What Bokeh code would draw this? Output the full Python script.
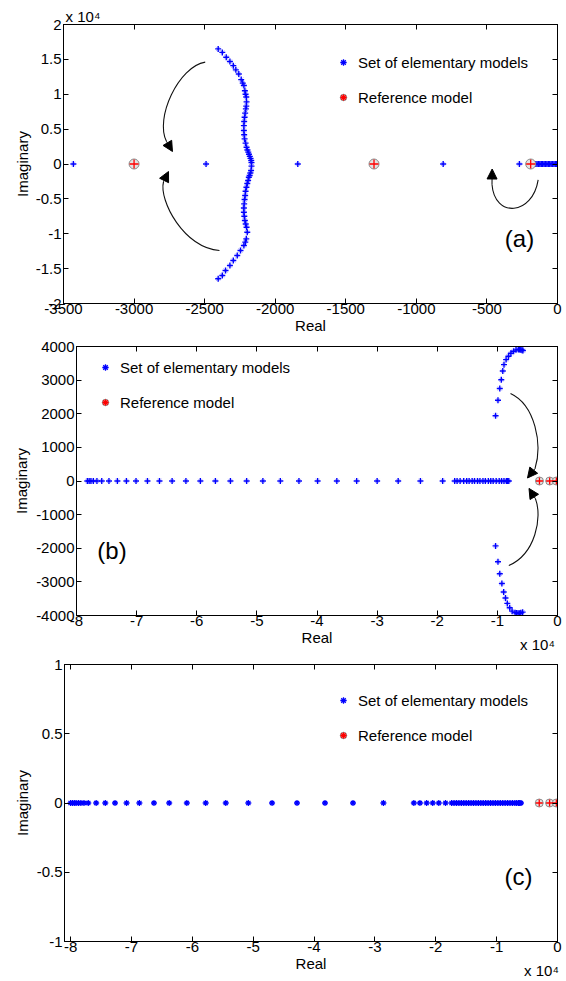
from bokeh.plotting import figure
from bokeh.layouts import column
from bokeh.models import (Range1d, FixedTicker, LinearAxis, Label, Legend, LegendItem,
                          ColumnDataSource, Arrow, NormalHead, CustomJSTickFormatter)
from bokeh.embed import file_html
from bokeh.resources import INLINE

FONT = "Liberation Sans"
BLUE = "#0000ff"
RED = "#ff0000"
NAN = float("nan")

# ---------------- data ----------------
legend_labels = ["Set of elementary models", "Reference model"]
exp_label = "x 10\u2074"
real_label = "Real"
imag_label = "Imaginary"

ref_re = [-3000, -1300, -190]
ref_im = [0, 0, 0]

# panel (a)
a_axis_re = [-3430, -2490, -1840, -810, -270, -155, -145, -135, -125, -115, -105, -95,
             -85, -75, -65, -55, -45, -35, -25, -15, -8, -3]
a_up_re = [-2404, -2375, -2347, -2321, -2297, -2279, -2258, -2241, -2230, -2222, -2215,
           -2210, -2205, -2203, -2205, -2208, -2213, -2217, -2220, -2222, -2222, -2220,
           -2217, -2210, -2203, -2197, -2191, -2186, -2180, -2175, -2170, -2168]
a_up_im = [16500, 16000, 15300, 14700, 14100, 13500, 12900, 12100, 11600, 11250, 10500,
           10000, 9600, 8900, 8300, 7900, 7300, 6700, 6100, 5500, 4800, 4200,
           3600, 3000, 2400, 2000, 1700, 1400, 1100, 800, 500, 200]
a_lo_re = [-2404, -2375, -2352, -2321, -2297, -2269, -2246, -2222, -2212, -2205, -2198,
           -2203, -2209, -2215, -2219, -2222, -2222, -2220, -2217, -2213, -2210, -2204,
           -2198, -2192, -2187, -2181, -2176, -2171, -2168]
a_lo_im = [-16460, -15990, -15270, -14560, -13840, -13120, -12400, -11690, -11200, -10730,
           -9780, -9060, -8600, -8100, -7500, -6910, -6300, -5710, -5100, -4520, -3900,
           -3330, -2800, -2370, -1900, -1650, -1300, -930, -300]

# panel (b)
b_axis_re = [-78200, -77900, -77600, -77200, -76600, -75800, -74600, -73200, -71700, -70100,
             -68200, -66200, -64100, -61800, -59400, -56900, -54400, -51700, -49000, -46100,
             -43000, -39900, -36700, -33400, -30000, -26500, -22800, -19100, -17100, -16700,
             -16200, -15600, -15100, -14700, -14200, -13800, -13300, -12900, -12400, -12000,
             -11500, -11100, -10700, -10200, -9700, -9300, -8900, -8500, -8300, -8100]
b_up_re = [-10300, -9900, -9600, -9350, -9100, -8900, -8550, -8150, -7750, -7300, -6900,
           -6500, -6300, -6100, -5900, -5750]
b_up_im = [1940, 2400, 2750, 3010, 3270, 3460, 3610, 3710, 3800, 3860, 3900,
           3910, 3910, 3905, 3890, 3880]
b_lo_re = [-10300, -9900, -9600, -9250, -8950, -8650, -8350, -7950, -7550, -7050, -6800,
           -6550, -6300, -6100, -5800]
b_lo_im = [-1930, -2400, -2760, -3050, -3300, -3480, -3640, -3770, -3870, -3915, -3925,
           -3930, -3930, -3920, -3900]

# panel (c)
c_axis_re = [-80000, -79700, -79400, -79100, -78700, -78300, -77800, -77100, -75800, -74300,
             -72700, -70800, -68700, -66300, -63800, -60900, -57800, -54500, -50800, -46900,
             -42800, -38200, -33600, -28600, -23600, -22600, -21500, -20500, -19500, -18400,
             -17400, -17000, -16600, -16200, -15800, -15400, -15000, -14600, -14200, -13800,
             -13400, -13000, -12600, -12200, -11800, -11400, -11000, -10600, -10200, -9800,
             -9400, -9000, -8600, -8200, -7800, -7400, -7000, -6700, -6400, -6200, -6000]

# ticks
a_xticks = [-3500, -3000, -2500, -2000, -1500, -1000, -500, 0]
a_xtick_labels = ["-3500", "-3000", "-2500", "-2000", "-1500", "-1000", "-500", "0"]
a_yticks = [-20000, -15000, -10000, -5000, 0, 5000, 10000, 15000, 20000]
a_ytick_labels = ["-2", "-1.5", "-1", "-0.5", "0", "0.5", "1", "1.5", "2"]
bc_xticks = [-80000, -70000, -60000, -50000, -40000, -30000, -20000, -10000, 0]
bc_xtick_labels = ["-8", "-7", "-6", "-5", "-4", "-3", "-2", "-1", "0"]
b_yticks = [-4000, -3000, -2000, -1000, 0, 1000, 2000, 3000, 4000]
b_ytick_labels = ["-4000", "-3000", "-2000", "-1000", "0", "1000", "2000", "3000", "4000"]
c_yticks = [-1, -0.5, 0, 0.5, 1]
c_ytick_labels = ["-1", "-0.5", "0", "0.5", "1"]

# annotation arrows (bezier start, control 1, control 2, end, head tip) in data coords
a_arrows = [
    ((-2496, 14600), (-2685, 13982), (-2855, 6525), (-2770, 3227), (-2728, 1793)),
    ((-2395, -12404), (-2643, -12117), (-2827, -5234), (-2791, -2510), (-2756, -1076)),
    ((-137, -2266), (-177, -7385), (-446, -7815), (-464, -2940), (-463, -717)),
]
b_arrows = [
    ((-7817, 2604), (-3659, 2258), (-2495, 1077), (-3742, 369), (-4990, 89)),
    ((-8100, -2515), (-3659, -2170), (-2495, -1077), (-3659, -531), (-4740, -221)),
]

W = 566


def fmt(ticks, labels):
    return CustomJSTickFormatter(args=dict(t=ticks, l=labels), code="""
        for (let i = 0; i < t.length; i++) {
            if (Math.abs(t[i] - tick) <= 1e-9 * Math.max(1, Math.abs(t[i]))) return l[i];
        }
        return '';
    """)


def style_axis(ax):
    ax.major_tick_in = 5
    ax.major_tick_out = 0
    ax.minor_tick_line_color = None
    ax.axis_line_color = "black"
    ax.major_tick_line_color = "black"
    ax.major_label_text_font = FONT
    ax.major_label_text_font_size = "15px"
    ax.major_label_text_color = "black"
    ax.axis_label_text_font = FONT
    ax.axis_label_text_font_size = "15px"
    ax.axis_label_text_font_style = "normal"
    ax.axis_label_text_color = "black"


def make_fig(height, top, bottom, left, xr, yr, xt, xl, yt, yl, ystand, xstand):
    p = figure(width=W, height=height, x_range=Range1d(*xr), y_range=Range1d(*yr),
               output_backend="svg", toolbar_location=None,
               min_border_top=top, min_border_bottom=bottom,
               min_border_left=left, min_border_right=9)
    if "frame_align" in p.properties():
        p.frame_align = False
    p.grid.visible = False
    p.outline_line_color = "black"
    p.outline_line_width = 1
    p.background_fill_color = "white"
    p.border_fill_color = "white"
    xa = p.xaxis[0]
    ya = p.yaxis[0]
    style_axis(xa)
    style_axis(ya)
    xa.ticker = FixedTicker(ticks=xt)
    xa.formatter = fmt(xt, xl)
    xa.major_label_standoff = 0
    xa.axis_label = real_label
    xa.axis_label_standoff = xstand
    ya.ticker = FixedTicker(ticks=yt)
    ya.formatter = fmt(yt, yl)
    ya.major_label_standoff = 2
    ya.axis_label = imag_label
    ya.axis_label_standoff = ystand
    for loc, ticks in (("right", yt), ("above", xt)):
        ax = LinearAxis(ticker=FixedTicker(ticks=ticks))
        style_axis(ax)
        ax.formatter = CustomJSTickFormatter(code="return ''")
        ax.major_label_text_font_size = "0px"
        ax.major_label_text_color = None
        ax.major_label_standoff = 0
        p.add_layout(ax, loc)
    return p


def add_exponent(p, loc, pos, standoff):
    ax = LinearAxis(ticker=FixedTicker(ticks=[pos]))
    style_axis(ax)
    ax.formatter = CustomJSTickFormatter(args=dict(s=exp_label), code="return s")
    ax.axis_line_color = None
    ax.major_tick_line_color = None
    ax.major_tick_in = 0
    ax.major_label_standoff = standoff
    p.add_layout(ax, loc)


def add_points(p, xs, ys, marker):
    if marker == "plus":
        p.scatter(xs, ys, marker="x", size=6, line_color=BLUE, line_alpha=0.3, line_width=1)
        p.scatter(xs, ys, marker="cross", size=6, line_color=BLUE, line_width=1.4)
    else:
        p.scatter(xs, ys, marker="asterisk", size=6, line_color=BLUE, line_width=1.3)


def add_ref(p, size):
    p.scatter(ref_re, ref_im, marker="circle", size=size, fill_color="#e2e2e2",
              line_color="#8c8c8c", line_width=1)
    p.scatter(ref_re, ref_im, marker="cross", size=size - 1, line_color=RED, line_width=1.3)


def add_legend(p, loc):
    src = ColumnDataSource(data=dict(x=[NAN], y=[NAN]))
    r1 = p.scatter("x", "y", source=src, marker="asterisk", size=8, line_color=BLUE, line_width=1.3)
    r2a = p.scatter("x", "y", source=src, marker="circle", size=8, fill_color="#d8d8d8",
                    line_color="#8c8c8c")
    r2b = p.scatter("x", "y", source=src, marker="asterisk", size=8, line_color=RED, line_width=1.3)
    lg = Legend(items=[LegendItem(label=legend_labels[0], renderers=[r1]),
                       LegendItem(label=legend_labels[1], renderers=[r2a, r2b])],
                location=loc, orientation="vertical", border_line_color=None,
                background_fill_alpha=0, label_text_font=FONT, label_text_font_size="15px",
                label_text_color="black", glyph_width=16, glyph_height=20, label_height=20,
                label_standoff=7, spacing=15, padding=0, margin=0)
    p.add_layout(lg)


def add_arrows(p, arrows):
    for (p0, c0, c1, p1, tip) in arrows:
        p.bezier(x0=[p0[0]], y0=[p0[1]], x1=[p1[0]], y1=[p1[1]],
                 cx0=[c0[0]], cy0=[c0[1]], cx1=[c1[0]], cy1=[c1[1]],
                 line_color="#111111", line_width=1.1)
        p.add_layout(Arrow(end=NormalHead(size=10, fill_color="black", line_color="black"),
                           x_start=p1[0], y_start=p1[1], x_end=tip[0], y_end=tip[1],
                           line_color="black", line_width=1))


def panel_tag(p, x, y, text):
    p.add_layout(Label(x=x, y=y, text=text, text_font=FONT, text_font_size="24px",
                       text_align="center", text_baseline="middle", text_color="black"))


# ---------------- panel (a) ----------------
pa = make_fig(338, 24, 35, 63, (-3500, 0), (-20000, 20000),
              a_xticks, a_xtick_labels, a_yticks, a_ytick_labels, 2, 0)
add_exponent(pa, "above", -3362, 0)
add_arrows(pa, a_arrows)
add_points(pa, a_axis_re, [0] * len(a_axis_re), "plus")
add_points(pa, a_up_re, a_up_im, "plus")
add_points(pa, a_lo_re, a_lo_im, "plus")
add_ref(pa, 10)
add_legend(pa, (272, 196))
panel_tag(pa, -269, -10683, "(a)")

# ---------------- panel (b) ----------------
pb = make_fig(317, 8, 38, 76, (-80000, 0), (-4000, 4000),
              bc_xticks, bc_xtick_labels, b_yticks, b_ytick_labels, 3, 0)
add_exponent(pb, "below", -3326, -13)
add_arrows(pb, b_arrows)
add_points(pb, b_axis_re, [0] * len(b_axis_re), "plus")
add_points(pb, b_up_re, b_up_im, "plus")
add_points(pb, b_lo_re, b_lo_im, "plus")
add_ref(pb, 8)
add_legend(pb, (21, 203))
panel_tag(pb, -74100, -2080, "(b)")

# ---------------- panel (c) ----------------
pc = make_fig(326, 9, 39, 64, (-81000, 0), (-1, 1),
              bc_xticks, bc_xtick_labels, c_yticks, c_ytick_labels, 3, 0)
add_exponent(pc, "below", -2629, -13)
add_points(pc, c_axis_re, [0] * len(c_axis_re), "star")
add_ref(pc, 8)
add_legend(pc, (271, 196))
panel_tag(pc, -6400, -0.53, "(c)")

layout = column(pa, pb, pc, spacing=0)
open("out.html", "w").write(file_html(layout, INLINE))
